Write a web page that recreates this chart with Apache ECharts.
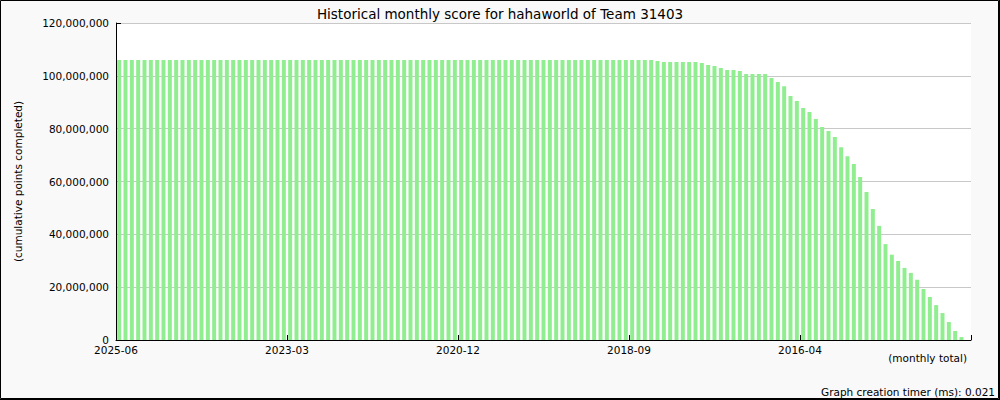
<!DOCTYPE html>
<html><head><meta charset="utf-8">
<script src="https://cdn.jsdelivr.net/npm/echarts@6/dist/echarts.min.js"></script>
<style>html,body{margin:0;padding:0;background:#f9f9f9}#c{width:1000px;height:400px}</style>
</head><body><div id="c"></div><script>
const titleText = "Historical monthly score for hahaworld of Team 31403";
const yAxisName = "(cumulative points completed)";
const xAxisName = "(monthly total)";
const footerText = "Graph creation timer (ms): 0.021";

const months = [
"2025-06","2025-05","2025-04","2025-03","2025-02","2025-01",
"2024-12","2024-11","2024-10","2024-09","2024-08","2024-07","2024-06","2024-05","2024-04","2024-03","2024-02","2024-01",
"2023-12","2023-11","2023-10","2023-09","2023-08","2023-07","2023-06","2023-05","2023-04","2023-03","2023-02","2023-01",
"2022-12","2022-11","2022-10","2022-09","2022-08","2022-07","2022-06","2022-05","2022-04","2022-03","2022-02","2022-01",
"2021-12","2021-11","2021-10","2021-09","2021-08","2021-07","2021-06","2021-05","2021-04","2021-03","2021-02","2021-01",
"2020-12","2020-11","2020-10","2020-09","2020-08","2020-07","2020-06","2020-05","2020-04","2020-03","2020-02","2020-01",
"2019-12","2019-11","2019-10","2019-09","2019-08","2019-07","2019-06","2019-05","2019-04","2019-03","2019-02","2019-01",
"2018-12","2018-11","2018-10","2018-09","2018-08","2018-07","2018-06","2018-05","2018-04","2018-03","2018-02","2018-01",
"2017-12","2017-11","2017-10","2017-09","2017-07","2017-06","2017-05","2017-04","2017-03","2017-01",
"2016-12","2016-11","2016-10","2016-09","2016-08","2016-07","2016-06","2016-05","2016-04","2016-03","2016-02","2016-01",
"2015-12","2015-11","2015-10","2015-09","2015-08","2015-07","2015-06","2015-05","2015-04","2015-03","2015-02","2015-01",
"2014-12","2014-11","2014-10","2014-09","2014-08","2014-07","2014-06","2014-05","2014-04","2014-03","2014-02"
];

const scores = [
106000000,106000000,106000000,106000000,106000000,106000000,106000000,106000000,106000000,106000000,
106000000,106000000,106000000,106000000,106000000,106000000,106000000,106000000,106000000,106000000,
106000000,106000000,106000000,106000000,106000000,106000000,106000000,106000000,106000000,106000000,
106000000,106000000,106000000,106000000,106000000,106000000,106000000,106000000,106000000,106000000,
106000000,106000000,106000000,106000000,106000000,106000000,106000000,106000000,106000000,106000000,
106000000,106000000,106000000,106000000,106000000,106000000,106000000,106000000,106000000,106000000,
106000000,106000000,106000000,106000000,106000000,106000000,106000000,106000000,106000000,106000000,
106000000,106000000,106000000,106000000,106000000,106000000,106000000,106000000,106000000,106000000,
106000000,106000000,106000000,106000000,106000000,
105600000,105200000,105200000,105200000,105200000,105200000,105200000,
104900000,104100000,103700000,103000000,102200000,102200000,101800000,
100700000,100700000,100700000,100700000,
99200000,97700000,96100000,92400000,90500000,87800000,86300000,83700000,80600000,79100000,
76800000,73000000,69600000,66600000,61700000,56000000,49600000,43200000,36300000,32300000,
29900000,27300000,25400000,22800000,19300000,16300000,13200000,10200000,6800000,3400000,
1100000,0
];

const yMax = 120000000;
const yStep = 20000000;
const xLabelStep = 27;

const FONT = '"DejaVu Sans", sans-serif';
const chart = echarts.init(document.getElementById('c'), null, {renderer: 'svg'});
const n = months.length;
chart.setOption({
  animation: false,
  backgroundColor: '#f9f9f9',
  title: {
    text: titleText, left: 'center', top: 2,
    textStyle: {fontFamily: FONT, fontSize: 13.5, fontWeight: 'normal', color: '#000'}
  },
  grid: {left: 116, right: 29, top: 23, bottom: 60, show: true, backgroundColor: '#fff', borderWidth: 0},
  xAxis: [
    {
      type: 'category', data: months, boundaryGap: true,
      axisLine: {show: false}, axisTick: {show: false}, axisLabel: {show: false}, splitLine: {show: false}
    },
    {
      type: 'value', position: 'bottom', min: 0, max: n, interval: xLabelStep / 2,
      axisLine: {show: true, onZero: false, lineStyle: {color: '#000', width: 1}},
      axisTick: {show: true, inside: true, length: 5, lineStyle: {color: '#000'}},
      splitLine: {show: false},
      axisLabel: {
        show: true, margin: 5, lineHeight: 10, showMinLabel: true, showMaxLabel: true,
        fontFamily: FONT, fontSize: 10.5, color: '#000',
        formatter: function (v) {
          const i = Math.round(v);
          return (i % xLabelStep === 0 && i < n) ? months[i] : '';
        }
      }
    }
  ],
  yAxis: {
    type: 'value', min: 0, max: yMax, interval: yStep,
    name: yAxisName, nameLocation: 'middle', nameGap: 93,
    nameTextStyle: {fontFamily: FONT, fontSize: 10.5, color: '#000'},
    axisLine: {show: true, lineStyle: {color: '#000', width: 1}},
    axisTick: {show: true, inside: true, length: 5, lineStyle: {color: '#000'}},
    splitLine: {show: true, lineStyle: {color: '#c8c8c8', width: 1}},
    axisLabel: {
      margin: 7, lineHeight: 10, fontFamily: FONT, fontSize: 10.5, color: '#000',
      formatter: function (v) { return v.toLocaleString('en-US'); }
    }
  },
  series: [{
    type: 'bar', xAxisIndex: 0, data: scores, barWidth: 4,
    itemStyle: {color: '#90EE90'}
  }],
  graphic: [
    {type: 'text', x: 967, y: 358, style: {text: xAxisName, align: 'right', textAlign: 'right', verticalAlign: 'middle', textVerticalAlign: 'middle', fontFamily: FONT, fontSize: 10.5, fill: '#000'}},
    {type: 'text', x: 995, y: 392, style: {text: footerText, align: 'right', textAlign: 'right', verticalAlign: 'middle', textVerticalAlign: 'middle', fontFamily: FONT, fontSize: 10.5, fill: '#000'}},
    {type: 'rect', shape: {x: 0.5, y: 0.5, width: 998, height: 398}, style: {fill: 'none', stroke: '#000', lineWidth: 1}, z: 100},
    {type: 'line', shape: {x1: 999.5, y1: 0, x2: 999.5, y2: 400}, style: {stroke: '#000', lineWidth: 1}, z: 100},
    {type: 'line', shape: {x1: 0, y1: 399.5, x2: 1000, y2: 399.5}, style: {stroke: '#000', lineWidth: 1}, z: 100}
  ]
});
</script></body></html>
